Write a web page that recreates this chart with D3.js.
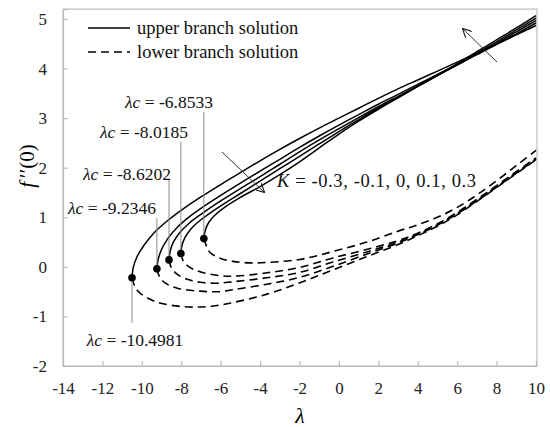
<!DOCTYPE html>
<html lang="en">
<head>
    <meta charset="UTF-8">
    <title>f''(0) versus lambda</title>
    <script src="https://d3js.org/d3.v7.min.js"></script>
    <style>
        body {
            margin: 0;
            background: white;
        }
        svg {
            display: block;
            font-family: "Liberation Serif", "DejaVu Serif", serif;
        }
        .tick-label {
            font-size: 17px;
            fill: #222;
        }
        .note {
            font-size: 17.5px;
            fill: #111;
        }
        .legend-text {
            font-size: 18.5px;
            fill: #111;
        }
        .frame {
            stroke: #bdbdbd;
            stroke-width: 1.2;
            fill: none;
        }
    </style>
</head>
<body>

    <svg id="chart"></svg>

    <script>
        // critical points (lambda_c, f''(0) at turning point), K = -0.3, -0.1, 0, 0.1, 0.3
        const kValues = [-0.3, -0.1, 0, 0.1, 0.3];
        const lambdaC = [-10.4981, -9.2346, -8.6202, -8.0185, -6.8533];
        const fAtLambdaC = [-0.22, -0.04, 0.14, 0.27, 0.57];

        const xTicks = [-14, -12, -10, -8, -6, -4, -2, 0, 2, 4, 6, 8, 10];
        const yTicks = [-2, -1, 0, 1, 2, 3, 4, 5];

        // upper branch [lambda, f''(0)]
        const upperKm03 = [[-10.4981, -0.22], [-10.44, -0.02], [-10.25, 0.2], [-9.9, 0.43], [-9.4, 0.68], [-8.7, 0.93],
            [-7.9, 1.17], [-7, 1.41], [-6, 1.66], [-5, 1.9], [-4, 2.14], [-3, 2.37], [-2, 2.59], [-1, 2.8], [0, 3.0],
            [1, 3.2], [2, 3.4], [3, 3.59], [4, 3.77], [5, 3.95], [6, 4.13], [7, 4.31], [8, 4.49], [9, 4.68], [10, 4.87]];
        const upperKm01 = [[-9.2346, -0.04], [-9.17, 0.15], [-9.0, 0.35], [-8.7, 0.56], [-8.2, 0.8], [-7.5, 1.04],
            [-7, 1.18], [-6, 1.44], [-5, 1.69], [-4, 1.93], [-3, 2.17], [-2, 2.41], [-1, 2.64], [0, 2.86], [1, 3.07],
            [2, 3.28], [3, 3.48], [4, 3.68], [5, 3.88], [6, 4.08], [7, 4.28], [8, 4.49], [9, 4.7], [10, 4.92]];
        const upperK0 = [[-8.6202, 0.14], [-8.56, 0.32], [-8.4, 0.5], [-8.1, 0.68], [-7.6, 0.88], [-7, 1.06],
            [-6, 1.33], [-5, 1.58], [-4, 1.82], [-3, 2.07], [-2, 2.32], [-1, 2.56], [0, 2.79], [1, 3.01], [2, 3.23],
            [3, 3.44], [4, 3.65], [5, 3.86], [6, 4.07], [7, 4.29], [8, 4.51], [9, 4.74], [10, 4.97]];
        const upperK01 = [[-8.0185, 0.27], [-7.96, 0.44], [-7.8, 0.6], [-7.5, 0.77], [-7, 0.95], [-6, 1.23],
            [-5, 1.48], [-4, 1.73], [-3, 1.98], [-2, 2.23], [-1, 2.48], [0, 2.73], [1, 2.97], [2, 3.2], [3, 3.42],
            [4, 3.64], [5, 3.86], [6, 4.08], [7, 4.31], [8, 4.54], [9, 4.78], [10, 5.02]];
        const upperK03 = [[-6.8533, 0.57], [-6.78, 0.74], [-6.6, 0.9], [-6.3, 1.04], [-5.8, 1.2], [-5, 1.4],
            [-4, 1.62], [-3, 1.86], [-2, 2.12], [-1, 2.4], [0, 2.68], [1, 2.94], [2, 3.18], [3, 3.41], [4, 3.64],
            [5, 3.87], [6, 4.1], [7, 4.34], [8, 4.58], [9, 4.82], [10, 5.07]];

        // lower branch [lambda, f''(0)]
        const lowerKm03 = [[-10.4981, -0.22], [-10.35, -0.4], [-10.09, -0.53], [-9.6, -0.65], [-9.08, -0.73], [-8, -0.8],
            [-7.05, -0.81], [-6.2, -0.78], [-5.37, -0.72], [-3.65, -0.55], [-1.98, -0.32], [-0.3, -0.06], [1.5, 0.22],
            [3, 0.45], [4, 0.63], [5, 0.82], [6, 1.05], [7, 1.32], [8, 1.6], [9, 1.88], [10, 2.16]];
        const lowerKm01 = [[-9.2346, -0.04], [-9.1, -0.2], [-8.8, -0.33], [-8.2, -0.43], [-7.05, -0.49], [-6, -0.5],
            [-5.37, -0.46], [-3.65, -0.35], [-1.98, -0.21], [-0.3, 0.01], [1.5, 0.27], [3, 0.48], [4, 0.65],
            [5, 0.84], [6, 1.07], [7, 1.33], [8, 1.61], [9, 1.89], [10, 2.17]];
        const lowerK0 = [[-8.6202, 0.14], [-8.5, -0.02], [-8.2, -0.15], [-7.7, -0.25], [-7.05, -0.31], [-6.2, -0.33],
            [-5.37, -0.3], [-3.65, -0.22], [-1.98, -0.11], [-0.3, 0.1], [1.5, 0.31], [3, 0.5], [4, 0.66],
            [5, 0.85], [6, 1.08], [7, 1.34], [8, 1.62], [9, 1.9], [10, 2.18]];
        const lowerK01 = [[-8.0185, 0.27], [-7.9, 0.12], [-7.6, 0.0], [-7.05, -0.1], [-6.2, -0.17], [-5.37, -0.19],
            [-3.65, -0.12], [-1.98, -0.01], [-0.3, 0.18], [1.5, 0.36], [3, 0.53], [4, 0.68], [5, 0.87],
            [6, 1.1], [7, 1.36], [8, 1.64], [9, 1.92], [10, 2.2]];
        const lowerK03 = [[-6.8533, 0.57], [-6.7, 0.4], [-6.54, 0.29], [-6, 0.17], [-5.37, 0.11], [-4.5, 0.08],
            [-3.65, 0.09], [-1.98, 0.15], [-0.3, 0.31], [1.42, 0.5], [3, 0.72], [4, 0.85], [5, 1.0],
            [6, 1.2], [7, 1.45], [8, 1.74], [9, 2.04], [10, 2.35]];

        const upperBranches = [upperKm03, upperKm01, upperK0, upperK01, upperK03];
        const lowerBranches = [lowerKm03, lowerKm01, lowerK0, lowerK01, lowerK03];

        const width = 550, height = 427;
        const svg = d3.select("#chart").attr("width", width).attr("height", height);

        const x = d3.scaleLinear().domain([-14, 10]).range([63, 536]);
        const y = d3.scaleLinear().domain([-2, 5.2]).range([366, 9.1]);

        // plot frame (grey border like the spreadsheet original)
        svg.append("rect").attr("class", "frame")
            .attr("x", x(-14)).attr("y", y(5.2))
            .attr("width", x(10) - x(-14) + 1).attr("height", y(-2) - y(5.2));

        // ticks point inwards, plain hyphen for minus
        const xAxis = svg.append("g")
            .attr("transform", `translate(0,${y(-2)})`)
            .call(d3.axisBottom(x).tickValues(xTicks).tickSize(-5).tickPadding(13).tickFormat(d => String(d)));
        const yAxis = svg.append("g")
            .attr("transform", `translate(${x(-14)},0)`)
            .call(d3.axisLeft(y).tickValues(yTicks).tickSize(-5).tickPadding(16).tickFormat(d => String(d)));
        [xAxis, yAxis].forEach(a => {
            a.attr("font-family", null).attr("font-size", null);
            a.select(".domain").attr("stroke", "#bdbdbd").attr("stroke-width", 1.2);
            a.selectAll(".tick line").attr("stroke", "#bdbdbd").attr("stroke-width", 1.2);
            a.selectAll(".tick text").attr("class", "tick-label");
        });
        xAxis.selectAll(".tick text").attr("dy", "0.9em");

        // axis titles
        svg.append("text")
            .attr("x", 300).attr("y", 423)
            .attr("text-anchor", "middle")
            .attr("font-size", 22).attr("font-style", "italic")
            .text("λ");

        const yTitle = svg.append("text")
            .attr("transform", "translate(34,166) rotate(-90)")
            .attr("text-anchor", "middle")
            .attr("font-size", 21);
        yTitle.append("tspan").attr("font-style", "italic").text("f");
        yTitle.append("tspan").attr("dx", 4).text("′′(0)");

        const line = d3.line()
            .x(d => x(d[0]))
            .y(d => y(d[1]))
            .curve(d3.curveCatmullRom.alpha(0.5));

        // lower branches (dashed)
        svg.selectAll(".lower")
            .data(lowerBranches)
            .enter().append("path")
            .attr("class", "lower")
            .attr("d", line)
            .attr("fill", "none")
            .attr("stroke", "#000")
            .attr("stroke-width", 1.6)
            .attr("stroke-dasharray", "8,5");

        // upper branches (solid)
        svg.selectAll(".upper")
            .data(upperBranches)
            .enter().append("path")
            .attr("class", "upper")
            .attr("d", line)
            .attr("fill", "none")
            .attr("stroke", "#000")
            .attr("stroke-width", 1.5);

        // leader lines + labels for the critical points
        const labelPos = [
            { tx: 135, ty: 346, top: 323 },
            { tx: 112, ty: 214, top: 218 },
            { tx: 127, ty: 180, top: 180 },
            { tx: 144, ty: 138, top: 142 },
            { tx: 169, ty: 108, top: 112 }
        ];

        lambdaC.forEach((lc, i) => {
            const p = labelPos[i];
            svg.append("line")
                .attr("x1", x(lc)).attr("x2", x(lc))
                .attr("y1", y(fAtLambdaC[i])).attr("y2", p.top)
                .attr("stroke", "#8c8c8c").attr("stroke-width", 1);

            const t = svg.append("text")
                .attr("class", "note")
                .attr("x", p.tx).attr("y", p.ty)
                .attr("text-anchor", "middle");
            t.append("tspan").attr("font-style", "italic").text("λc");
            t.append("tspan").text(" = " + lc.toFixed(4));
        });

        svg.selectAll(".crit")
            .data(lambdaC)
            .enter().append("circle")
            .attr("class", "crit")
            .attr("cx", d => x(d))
            .attr("cy", (d, i) => y(fAtLambdaC[i]))
            .attr("r", 3.8)
            .attr("fill", "#000");

        // arrows showing direction of increasing K
        const defs = svg.append("defs");
        defs.append("marker")
            .attr("id", "head")
            .attr("viewBox", "0 0 10 10")
            .attr("refX", 9).attr("refY", 5)
            .attr("markerWidth", 9).attr("markerHeight", 9)
            .attr("markerUnits", "userSpaceOnUse")
            .attr("orient", "auto")
            .append("path")
            .attr("d", "M0,0 L10,5 L0,10")
            .attr("fill", "none")
            .attr("stroke", "#222")
            .attr("stroke-width", 1.3);

        svg.append("line")
            .attr("x1", 222).attr("y1", 152).attr("x2", 264).attr("y2", 192)
            .attr("stroke", "#333").attr("stroke-width", 1)
            .attr("marker-end", "url(#head)");
        svg.append("line")
            .attr("x1", 497).attr("y1", 62).attr("x2", 463).attr("y2", 29)
            .attr("stroke", "#333").attr("stroke-width", 1)
            .attr("marker-end", "url(#head)");

        const kLabel = svg.append("text")
            .attr("class", "legend-text")
            .attr("x", 277).attr("y", 187)
            .attr("textLength", 199)
            .attr("lengthAdjust", "spacing");
        kLabel.append("tspan").attr("font-style", "italic").text("K");
        kLabel.append("tspan").text(" = " + kValues.join(", "));

        // legend
        const legend = svg.append("g");
        legend.append("line").attr("x1", 88).attr("x2", 130).attr("y1", 28).attr("y2", 28)
            .attr("stroke", "#000").attr("stroke-width", 1.5);
        legend.append("line").attr("x1", 88).attr("x2", 130).attr("y1", 52).attr("y2", 52)
            .attr("stroke", "#000").attr("stroke-width", 1.5).attr("stroke-dasharray", "8,5");
        legend.append("text").attr("class", "legend-text").attr("x", 137).attr("y", 34).text("upper branch solution");
        legend.append("text").attr("class", "legend-text").attr("x", 137).attr("y", 58).text("lower branch solution");
    </script>

</body>
</html>
